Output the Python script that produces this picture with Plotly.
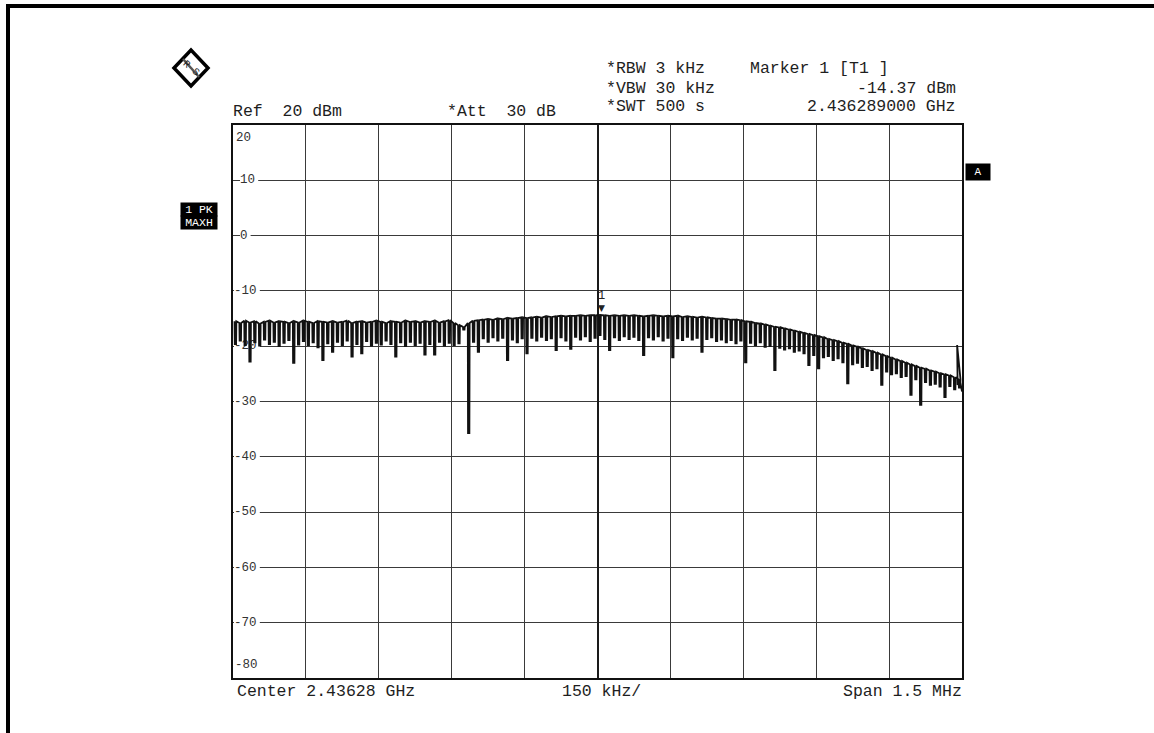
import plotly.graph_objects as go

# ---------------- data ----------------
# frequency offsets from the centre 2.43628 GHz, in kHz, of each comb tooth
tooth_freq_khz = [
    -745, -735, -725, -715, -705, -695, -685, -675, -665, -655,
    -645, -635, -625, -615, -605, -595, -585, -575, -565, -555,
    -545, -535, -525, -515, -505, -495, -485, -475, -465, -455,
    -445, -435, -425, -415, -405, -395, -385, -375, -365, -355,
    -345, -335, -325, -315, -305, -295, -285, -275, -265, -255,
    -245, -235, -225, -215, -205, -195, -185, -175, -165, -155,
    -145, -135, -125, -115, -105, -95, -85, -75, -65, -55,
    -45, -35, -25, -15, -5, 5, 15, 25, 35, 45,
    55, 65, 75, 85, 95, 105, 115, 125, 135, 145,
    155, 165, 175, 185, 195, 205, 215, 225, 235, 245,
    255, 265, 275, 285, 295, 305, 315, 325, 335, 345,
    355, 365, 375, 385, 395, 405, 415, 425, 435, 445,
    455, 465, 475, 485, 495, 505, 515, 525, 535, 545,
    555, 565, 575, 585, 595, 605, 615, 625, 635, 645,
    655, 665, 675, 685, 695, 705, 715, 725, 735, 745,
]
# max-hold level at the top of each tooth (dBm)
tooth_top_dbm = [
    -15.5, -15.8, -15.4, -15.7, -15.5, -15.9, -15.6, -15.4, -15.7, -15.5,
    -15.6, -15.8, -15.5, -15.7, -15.4, -15.6, -15.8, -15.5, -15.6, -15.7,
    -15.5, -15.7, -15.6, -15.4, -15.8, -15.6, -15.5, -15.7, -15.6, -15.4,
    -15.6, -15.8, -15.5, -15.6, -15.7, -15.4, -15.6, -15.5, -15.7, -15.5,
    -15.6, -15.4, -15.7, -15.5, -15.3, -15.8, -16.2, -16.5, -15.8, -15.4,
    -15.3, -15.2, -15.1, -15.2, -15.0, -15.1, -14.9, -15.0, -14.9, -14.8,
    -14.9, -14.8, -14.7, -14.8, -14.6, -14.7, -14.6, -14.5, -14.6, -14.5,
    -14.5, -14.4, -14.5, -14.4, -14.4, -14.37, -14.4, -14.5, -14.4, -14.5,
    -14.4, -14.5, -14.4, -14.5, -14.6, -14.5, -14.4, -14.5, -14.6, -14.5,
    -14.6, -14.5, -14.7, -14.6, -14.7, -14.8, -14.7, -14.8, -14.9, -15.0,
    -15.0, -15.1, -15.2, -15.2, -15.3, -15.5, -15.6, -15.8, -15.9, -16.1,
    -16.3, -16.5, -16.6, -16.8, -17.0, -17.2, -17.4, -17.6, -17.8, -18.0,
    -18.2, -18.4, -18.7, -18.9, -19.1, -19.4, -19.6, -19.9, -20.1, -20.4,
    -20.7, -20.9, -21.2, -21.5, -21.8, -22.1, -22.4, -22.7, -23.0, -23.3,
    -23.6, -23.9, -24.1, -24.4, -24.6, -24.9, -25.1, -25.3, -25.6, -26.0,
]
# level at the bottom of each tooth (dBm)
tooth_bottom_dbm = [
    -19.6, -19.0, -19.8, -22.8, -19.3, -19.9, -18.8, -19.6, -19.2, -20.0,
    -19.4, -18.9, -23.0, -19.7, -19.1, -19.8, -19.3, -20.2, -22.5, -19.5,
    -21.0, -19.2, -19.8, -19.0, -21.9, -19.6, -21.3, -19.1, -19.9, -19.4,
    -19.7, -19.0, -19.6, -21.9, -19.3, -20.0, -19.2, -19.8, -19.4, -21.5,
    -19.6, -21.5, -19.2, -19.9, -19.4, -19.8, -19.5, -17.0, -35.7, -19.2,
    -21.0, -18.6, -19.2, -18.4, -19.0, -18.5, -22.5, -18.8, -19.3, -18.6,
    -21.3, -18.5, -19.0, -18.3, -18.9, -18.6, -20.7, -18.4, -19.0, -20.5,
    -18.3, -18.8, -18.2, -19.1, -18.5, -18.0, -18.7, -20.7, -18.4, -18.9,
    -18.2, -18.7, -18.3, -18.9, -21.6, -18.4, -18.8, -18.2, -19.0, -18.5,
    -22.0, -18.6, -18.9, -18.3, -18.8, -18.5, -21.0, -18.7, -18.4, -19.1,
    -18.8, -19.3, -18.9, -19.5, -19.0, -22.9, -19.4, -19.8, -19.3, -20.1,
    -20.0, -24.3, -20.3, -20.6, -20.4, -21.0, -20.8, -21.3, -23.4, -21.6,
    -24.0, -22.0, -21.8, -22.5, -22.2, -22.9, -26.7, -23.3, -23.0, -23.8,
    -23.6, -24.3, -24.0, -27.0, -24.6, -25.1, -24.9, -25.6, -25.4, -28.8,
    -26.0, -30.6, -26.5, -27.0, -26.8, -27.3, -29.2, -27.2, -27.8, -27.5,
]
# last few points of the sweep (spike at the right edge)
end_freq_khz = [740, 741, 746, 750]
end_level_dbm = [-19.8, -27.0, -26.2, -28.2]

y_tick_values = [20, 10, 0, -10, -20, -30, -40, -50, -60, -70, -80]
y_tick_labels = ["20", "10", "0", "-10", "-20", "-30", "-40", "-50", "-60", "-70", "-80"]

marker_freq_khz = 9
marker_level_dbm = -14.37

# ---------------- layout constants ----------------
W, H = 1154, 733
L, R, T, B = 233, 962, 125, 678          # plot area in pixels
KHZ_PER_PX = 1500.0 / (R - L)
DB_PER_PX = 100.0 / (B - T)
FONT = "Liberation Mono"
INK = "#1e1e1e"


def px(x):
    return (x - L) / (R - L)


def py(y):
    return (B - y) / (B - T)


# build the max-hold trace from the tooth tables (each tooth is a narrow notch)
xs, ys = [], []
for f, top, bot in zip(tooth_freq_khz, tooth_top_dbm, tooth_bottom_dbm):
    xs += [f - 1.9, f - 1.4, f + 1.4, f + 1.9]
    ys += [top, bot, bot, top]
xs += end_freq_khz
ys += end_level_dbm

fig = go.Figure()

# y-axis numbers drawn inside the grid (as a text trace, so the trace covers them)
lab_x, lab_y, shapes = [], [], []
for v, t in zip(y_tick_values, y_tick_labels):
    if v == 20:
        ypos = v - 13 * DB_PER_PX
        xstart = 236
    elif v == -80:
        ypos = v + 13 * DB_PER_PX
        xstart = 235
    elif v >= 0:
        ypos = v
        xstart = 240
    else:
        ypos = v
        xstart = 234
    xk = -750 + (xstart - L) * KHZ_PER_PX
    lab_x.append(xk)
    lab_y.append(ypos)
    wpx = len(t) * 7.6 + 3
    shapes.append(dict(type="rect", xref="x", yref="y", layer="between",
                       x0=xk, x1=xk + wpx * KHZ_PER_PX,
                       y0=ypos - 6 * DB_PER_PX, y1=ypos + 6 * DB_PER_PX,
                       fillcolor="white", line=dict(width=0)))

fig.add_trace(go.Scatter(x=lab_x, y=lab_y, text=y_tick_labels, mode="text",
                         textposition="middle right",
                         textfont=dict(family=FONT, size=12.5, color="#333"),
                         hoverinfo="skip", showlegend=False, cliponaxis=False))

fig.add_trace(go.Scatter(x=xs, y=ys, mode="lines",
                         line=dict(color="#111", width=1.8),
                         hoverinfo="skip", showlegend=False))

# outer thick border (top and left edges of the scanned page)
shapes.append(dict(type="line", xref="paper", yref="paper",
                   x0=px(6), x1=px(W + 5), y0=py(6), y1=py(6),
                   line=dict(color="black", width=4)))
shapes.append(dict(type="line", xref="paper", yref="paper",
                   x0=px(8), x1=px(8), y0=py(4), y1=py(H + 5),
                   line=dict(color="black", width=4)))

# R&S logo: diamond with a diagonal band
cx, cy, hw, hh = 191, 68, 17, 18
shapes.append(dict(type="path", xref="paper", yref="paper",
                   path=f"M {px(cx - hw)} {py(cy)} L {px(cx)} {py(cy - hh)} L {px(cx + hw)} {py(cy)} L {px(cx)} {py(cy + hh)} Z",
                   line=dict(color="black", width=3.5), fillcolor="white"))
shapes.append(dict(type="line", xref="paper", yref="paper",
                   x0=px(cx - 8), y0=py(cy - 9), x1=px(cx + 8), y1=py(cy + 9),
                   line=dict(color="#555", width=2.5)))

ann = []


def text(x, y, s, anchor="left", size=16.5, color=INK, **kw):
    ann.append(dict(xref="paper", yref="paper", x=px(x), y=py(y), text=s,
                    showarrow=False, xanchor=anchor, yanchor="middle",
                    font=dict(family=FONT, size=size, color=color), **kw))


text(cx - 5, cy - 3, "R", anchor="center", size=10, textangle=40)
text(cx + 5, cy + 4, "S", anchor="center", size=10, textangle=40)

text(231, 111, "Ref  20 dBm")
text(445, 111, "*Att  30 dB")
text(604, 69, "*RBW 3 kHz")
text(604, 88, "*VBW 30 kHz")
text(604, 107, "*SWT 500 s")
text(748, 69, "Marker 1 [T1 ]")
text(958, 88, "-14.37 dBm", anchor="right")
text(958, 107, "2.436289000 GHz", anchor="right")

text(235, 691, "Center 2.43628 GHz")
text(560, 691, "150 kHz/")
text(964, 691, "Span 1.5 MHz", anchor="right")

# boxed indicators
text(198.5, 209, "1 PK", anchor="center", size=11.5, color="white",
     bgcolor="black", borderpad=0, width=36)
text(198.5, 223, "MAXH", anchor="center", size=11.5, color="white",
     bgcolor="black", borderpad=0, width=36)
text(978, 172, "A", anchor="center", size=11, color="white",
     bgcolor="black", borderpad=2, width=20)

# marker 1
ann.append(dict(xref="x", yref="y", x=marker_freq_khz, y=marker_level_dbm,
                text="▼", showarrow=False, yanchor="bottom", yshift=0,
                font=dict(family="DejaVu Sans", size=9, color="#222")))
ann.append(dict(xref="x", yref="y", x=marker_freq_khz, y=marker_level_dbm,
                text="1", showarrow=False, yanchor="bottom", yshift=10,
                font=dict(family=FONT, size=12, color="#222")))

fig.update_layout(
    width=W, height=H,
    margin=dict(l=L, r=W - R, t=T, b=H - B, pad=0),
    paper_bgcolor="white", plot_bgcolor="white",
    shapes=shapes, annotations=ann,
    xaxis=dict(range=[-750, 750], dtick=150, tick0=-750, showticklabels=False,
               ticks="", showgrid=True, gridcolor="#3a3a3a", gridwidth=1,
               zeroline=True, zerolinecolor="#1a1a1a", zerolinewidth=1.6,
               showline=True, linecolor="#111", linewidth=2, mirror=True),
    yaxis=dict(range=[-80, 20], dtick=10, tick0=-80, showticklabels=False,
               ticks="", showgrid=True, gridcolor="#3a3a3a", gridwidth=1,
               zeroline=False,
               showline=True, linecolor="#111", linewidth=2, mirror=True),
)

fig.write_html("out.html", config={"displayModeBar": False},
               post_script="document.body.style.margin='0';")
